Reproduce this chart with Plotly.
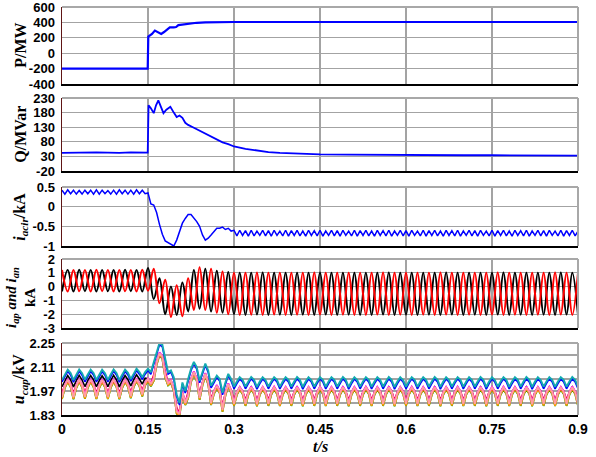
import plotly.graph_objects as go

# ---------------- data ----------------
t_fine = [round(0.005 * i, 3) for i in range(181)]   # 5 ms sampling grid
t_half = [round(0.01 * i, 2) for i in range(91)]     # 10 ms sampling grid (half period)

x_ticks = [0, 0.15, 0.3, 0.45, 0.6, 0.75, 0.9]
x_tick_text = ["0", "0.15", "0.3", "0.45", "0.6", "0.75", "0.9"]

# Panel 1: active power P (MW)
p_t = [0, 0.1495, 0.1505, 0.153, 0.157, 0.162, 0.167, 0.173, 0.178, 0.182, 0.188,
       0.195, 0.199, 0.203, 0.21, 0.217, 0.225, 0.235, 0.25, 0.27, 0.3, 0.4, 0.6, 0.9]
p_v = [-200, -200, 215, 225, 250, 293, 270, 250, 275, 300, 335,
       335, 340, 365, 372, 378, 388, 395, 400, 403, 405, 405, 405, 405]

# Panel 2: reactive power Q (MVar)
q_t = [0, 0.02, 0.04, 0.06, 0.08, 0.1, 0.12, 0.14, 0.1495, 0.151, 0.155, 0.16, 0.164,
       0.168, 0.172, 0.177, 0.182, 0.189, 0.195, 0.2, 0.205, 0.21, 0.215, 0.22, 0.23,
       0.24, 0.25, 0.26, 0.27, 0.28, 0.29, 0.3, 0.32, 0.34, 0.36, 0.38, 0.4, 0.45, 0.5,
       0.55, 0.6, 0.65, 0.7, 0.75, 0.8, 0.85, 0.9]
q_v = [42, 43, 42, 44, 43, 42, 44, 43, 43, 205, 195, 178, 205,
       222, 200, 178, 190, 200, 180, 165, 170, 162, 145, 138, 128,
       118, 108, 98, 88, 78, 72, 64, 56, 50, 45, 42, 40, 37, 36,
       35, 35, 35, 34, 34, 34, 33, 33]

# Panel 3: circulating current i_acir (kA), on t_fine
iacir = [
    0.42, 0.32, 0.43, 0.33, 0.42, 0.32, 0.41, 0.32, 0.42, 0.33,
    0.42, 0.32, 0.43, 0.32, 0.42, 0.33, 0.41, 0.32, 0.42, 0.32,
    0.43, 0.33, 0.42, 0.32, 0.42, 0.32, 0.43, 0.33, 0.42, 0.33,
    0.35, 0.07, 0.04, -0.15, -0.45, -0.70, -0.87, -0.92, -0.97, -1.00,
    -0.85, -0.65, -0.42, -0.30, -0.20, -0.20, -0.28, -0.38, -0.50, -0.72,
    -0.85, -0.80, -0.72, -0.62, -0.55, -0.55, -0.52, -0.58, -0.55, -0.62,
    -0.60,
    -0.74, -0.60, -0.73, -0.61, -0.75, -0.60, -0.74, -0.62, -0.73, -0.60,
    -0.74, -0.61, -0.75, -0.60, -0.73, -0.62, -0.74, -0.60, -0.75, -0.61,
    -0.73, -0.60, -0.74, -0.62, -0.75, -0.60, -0.73, -0.61, -0.74, -0.60,
    -0.75, -0.62, -0.73, -0.60, -0.74, -0.61, -0.75, -0.60, -0.73, -0.62,
    -0.74, -0.60, -0.75, -0.61, -0.73, -0.60, -0.74, -0.62, -0.75, -0.60,
    -0.73, -0.61, -0.74, -0.60, -0.75, -0.62, -0.73, -0.60, -0.74, -0.61,
    -0.75, -0.60, -0.73, -0.62, -0.74, -0.60, -0.75, -0.61, -0.73, -0.60,
    -0.74, -0.62, -0.75, -0.60, -0.73, -0.61, -0.74, -0.60, -0.75, -0.62,
    -0.73, -0.60, -0.74, -0.61, -0.75, -0.60, -0.73, -0.62, -0.74, -0.60,
    -0.75, -0.61, -0.73, -0.60, -0.74, -0.62, -0.75, -0.60, -0.73, -0.61,
    -0.74, -0.60, -0.75, -0.62, -0.73, -0.60, -0.74, -0.61, -0.75, -0.60,
    -0.73, -0.62, -0.74, -0.60, -0.75, -0.61, -0.73, -0.60, -0.74, -0.62,
]

# Panel 4: arm currents i_ap (black) and i_an (red) in kA, peaks/troughs on t_half
i_ap = [
    -0.35, 1.20, -0.35, 1.22, -0.33, 1.20, -0.35, 1.21, -0.34, 1.20,
    -0.35, 1.22, -0.33, 1.20, -0.35, 1.35, -0.90, 0.60, -2.00, 0.00,
    -2.05, 0.30, -1.80, 1.20, -1.60, 1.30, -1.80, 1.15, -1.90, 1.05,
    -2.00, 1.00, -2.05, 1.00, -2.03, 1.02, -2.05, 1.00, -2.04, 1.00,
    -2.05, 1.01, -2.04, 1.00, -2.05, 1.02, -2.03, 1.00, -2.05, 1.00,
    -2.04, 1.00, -2.05, 1.01, -2.05, 1.00, -2.03, 1.02, -2.05, 1.00,
    -2.04, 1.00, -2.05, 1.01, -2.04, 1.00, -2.05, 1.02, -2.03, 1.00,
    -2.05, 1.00, -2.04, 1.01, -2.05, 1.00, -2.03, 1.02, -2.05, 1.00,
    -2.04, 1.00, -2.05, 1.01, -2.04, 1.00, -2.05, 1.02, -2.03, 1.00,
    -2.05,
]
i_an = [
    1.20, -0.35, 1.21, -0.34, 1.20, -0.35, 1.22, -0.33, 1.20, -0.35,
    1.21, -0.34, 1.20, -0.35, 1.22, -0.30, 1.30, -1.20, 0.50, -2.20,
    0.10, -2.15, 0.60, -1.70, 1.40, -1.70, 1.30, -1.90, 1.10, -2.00,
    1.00, -2.05, 1.00, -2.04, 1.02, -2.05, 1.00, -2.03, 1.00, -2.05,
    1.01, -2.04, 1.00, -2.05, 1.02, -2.03, 1.00, -2.05, 1.00, -2.04,
    1.00, -2.05, 1.01, -2.05, 1.00, -2.03, 1.02, -2.05, 1.00, -2.04,
    1.00, -2.05, 1.01, -2.04, 1.00, -2.05, 1.02, -2.03, 1.00, -2.05,
    1.00, -2.04, 1.01, -2.05, 1.00, -2.03, 1.02, -2.05, 1.00, -2.04,
    1.00, -2.05, 1.01, -2.04, 1.00, -2.05, 1.02, -2.03, 1.00, -2.05,
    1.00,
]

# Panel 5: sub-module capacitor voltages u_cap (kV) on t_fine.
# Top (cyan) trace read point by point; the other traces read as their
# offset below it at the four points of each 20 ms cycle (trough, rise, peak, shoulder).
ucap_cyan = [
    2.035, 2.066, 2.095, 2.075, 2.034, 2.065, 2.096, 2.074, 2.036, 2.066,
    2.095, 2.075, 2.035, 2.065, 2.094, 2.074, 2.035, 2.066, 2.096, 2.075,
    2.034, 2.065, 2.095, 2.076, 2.040, 2.070, 2.100, 2.080, 2.050, 2.080,
    2.100, 2.080, 2.140, 2.200, 2.250, 2.240, 2.160, 2.080, 2.090, 2.050,
    1.950, 1.900, 2.020, 1.970, 2.040, 2.100, 2.140, 2.110, 2.030, 2.080,
    2.130, 2.090, 2.000, 2.030, 2.060, 2.040, 1.960, 2.020, 2.070, 2.040,
    1.995, 2.025, 2.050, 2.035, 1.995, 2.025, 2.052, 2.035, 1.993, 2.025,
    2.050, 2.034, 1.995, 2.026, 2.051, 2.035, 1.994, 2.025, 2.050, 2.035,
    1.995, 2.025, 2.052, 2.035, 1.993, 2.025, 2.050, 2.034, 1.995, 2.026,
    2.051, 2.035, 1.994, 2.025, 2.050, 2.035, 1.995, 2.025, 2.052, 2.035,
    1.993, 2.025, 2.050, 2.034, 1.995, 2.026, 2.051, 2.035, 1.994, 2.025,
    2.050, 2.035, 1.995, 2.025, 2.052, 2.035, 1.993, 2.025, 2.050, 2.034,
    1.995, 2.026, 2.051, 2.035, 1.994, 2.025, 2.050, 2.035, 1.995, 2.025,
    2.052, 2.035, 1.993, 2.025, 2.050, 2.034, 1.995, 2.026, 2.051, 2.035,
    1.994, 2.025, 2.050, 2.035, 1.995, 2.025, 2.052, 2.035, 1.993, 2.025,
    2.050, 2.034, 1.995, 2.026, 2.051, 2.035, 1.994, 2.025, 2.050, 2.035,
    1.995, 2.025, 2.052, 2.035, 1.993, 2.025, 2.050, 2.034, 1.995, 2.026,
    2.051, 2.035, 1.994, 2.025, 2.050, 2.035, 1.995, 2.025, 2.052, 2.035,
    1.995,
]
# offsets below the cyan trace: before the step (t < 0.15) and after it
off_blue = [-0.012, -0.012, -0.010, -0.012]
off_black_before = [-0.040, -0.035, -0.035, -0.040]
off_black_after = [-0.095, -0.062, -0.058, -0.068]
off_red = [-0.075, -0.060, -0.070, -0.065]
off_magenta = [-0.090, -0.060, -0.055, -0.065]
off_pink = [-0.100, -0.065, -0.060, -0.070]
off_orange = [-0.110, -0.075, -0.070, -0.080]
off_green = [-0.112, -0.078, -0.072, -0.082]
black_switch_t = 0.15


def below_cyan(offs, offs_after=None, t_switch=None):
    out = []
    for i, v in enumerate(ucap_cyan):
        o = offs
        if offs_after is not None and t_fine[i] >= t_switch:
            o = offs_after
        out.append(round(v + o[i % 4], 4))
    return out


# ---------------- figure ----------------
GRID = "#a3a3a3"
FRAME = "#a8a8a8"
LEFT = "#5e1515"
TICKFONT = dict(family="Liberation Sans, Arial", size=13, color="black", weight="bold")

# plot area: x 62..578 px, y 7..415 px (408 px tall)
domains = [
    [0.8113, 1.0],
    [0.598, 0.777],
    [0.4142, 0.5588],
    [0.2132, 0.3824],
    [0.0, 0.1765],
]
y_ranges = [[-400, 600], [-20, 230], [-1, 0.5], [-3, 2], [1.83, 2.25]]
y_tickvals = [
    [-400, -200, 0, 200, 400, 600],
    [-20, 30, 80, 130, 180, 230],
    [-1, -0.5, 0, 0.5],
    [-3, -2, -1, 0, 1, 2],
    [1.83, 1.97, 2.11, 2.25],
]
y_ticktext = [
    ["-400", "-200", "0", "200", "400", "600"],
    ["-20", "30", "80", "130", "180", "230"],
    ["-1", "-0.5", "0", "0.5"],
    ["-3", "-2", "-1", "0", "1", "2"],
    ["1.83", "1.97", "2.11", "2.25"],
]
ucap_minor_grid = [1.90, 2.04, 2.18]

fig = go.Figure()


def ax(k):
    return ("x" if k == 1 else f"x{k}"), ("y" if k == 1 else f"y{k}")


def add(k, x, y, color, width=1.8, shape="linear"):
    xa, ya = ax(k)
    fig.add_trace(go.Scatter(x=x, y=y, xaxis=xa, yaxis=ya, mode="lines",
                             line=dict(color=color, width=width, shape=shape),
                             showlegend=False, hoverinfo="skip"))


add(1, p_t, p_v, "#0000ff", 2.2)
add(2, q_t, q_v, "#0000ff", 1.8)
add(3, t_fine, iacir, "#0000ff", 1.5)
add(4, t_half, i_ap, "#000000", 2.0, "spline")
add(4, t_half, i_an, "#ff0000", 2.0, "spline")
add(5, t_fine, below_cyan(off_green), "#00a000", 1.8)
add(5, t_fine, below_cyan(off_orange), "#ff9900", 1.8)
add(5, t_fine, below_cyan(off_red), "#ff0000", 1.6)
add(5, t_fine, below_cyan(off_black_before, off_black_after, black_switch_t), "#000000", 1.6)
add(5, t_fine, below_cyan(off_magenta), "#ff00ff", 1.8)
add(5, t_fine, below_cyan(off_pink), "#ff9f9f", 2.0)
add(5, t_fine, below_cyan(off_blue), "#0000ff", 1.6)
add(5, t_fine, ucap_cyan, "#14a9b0", 1.9)

layout = dict(
    width=596, height=457,
    margin=dict(l=62, r=18, t=7, b=42, autoexpand=False),
    paper_bgcolor="white", plot_bgcolor="white",
    showlegend=False,
)
shapes = []
for k in range(1, 6):
    xa, ya = ax(k)
    xkey = "xaxis" if k == 1 else f"xaxis{k}"
    ykey = "yaxis" if k == 1 else f"yaxis{k}"
    layout[xkey] = dict(
        domain=[0, 1], anchor=ya, range=[0, 0.9], automargin=False,
        tickmode="array", tickvals=x_ticks, ticktext=x_tick_text,
        showticklabels=(k == 5), ticks="", ticklabeloverflow="allow",
        tickfont=dict(family="Liberation Sans, Arial", size=14, color="black", weight="bold"),
        showgrid=True, gridcolor=GRID, gridwidth=1.3, zeroline=False,
        showline=True, linecolor="black", linewidth=2,
    )
    ycfg = dict(
        domain=domains[k - 1], anchor=xa, range=y_ranges[k - 1], automargin=False,
        tickmode="array", tickvals=y_tickvals[k - 1], ticktext=y_ticktext[k - 1],
        tickfont=TICKFONT, ticks="outside", ticklen=3, tickcolor="rgba(0,0,0,0)",
        ticklabeloverflow="allow",
        showgrid=True, gridcolor=GRID, gridwidth=1.3, zeroline=False,
        showline=True, linecolor=LEFT, linewidth=1.5,
    )
    if k == 5:
        ycfg["minor"] = dict(tickmode="array", tickvals=ucap_minor_grid, showgrid=True,
                             gridcolor=GRID, gridwidth=1.3, ticks="")
    layout[ykey] = ycfg
    shapes.append(dict(type="line", xref=f"{xa} domain", yref=f"{ya} domain",
                       x0=0, x1=1, y0=1, y1=1, line=dict(color=FRAME, width=2), layer="above"))
    shapes.append(dict(type="line", xref=f"{xa} domain", yref=f"{ya} domain",
                       x0=1, x1=1, y0=0, y1=1, line=dict(color=FRAME, width=2), layer="above"))
layout["shapes"] = shapes

TITLEFONT = dict(family="Liberation Serif, Times New Roman", size=16, color="black", weight="bold")
titles = [
    ("P/MW", -0.081, 16, 0.0),
    ("Q/MVar", -0.081, 16, 0.0),
    ("<i>i<sub>acir</sub></i>/kA", -0.081, 16, 0.0),
    ("<i>i<sub>ap</sub> and i<sub>an</sub></i><br>kA", -0.080, 15, -0.009),
    ("<i>u<sub>cap</sub></i>/kV", -0.081, 16, 0.0),
]
ann = []
for k, (txt, xp, fs, dy) in enumerate(titles):
    d = domains[k]
    ann.append(dict(text=txt, xref="paper", yref="paper", x=xp, y=(d[0] + d[1]) / 2 + dy,
                    xanchor="center", yanchor="middle", textangle=-90, showarrow=False,
                    font=dict(TITLEFONT, size=fs)))
ann.append(dict(text="<i>t/s</i>", xref="paper", yref="paper", x=0.5, y=-0.078,
                xanchor="center", yanchor="middle", showarrow=False, font=TITLEFONT))
layout["annotations"] = ann

fig.update_layout(**layout)
fig.write_html("out.html", config={"displayModeBar": False, "staticPlot": True})

# remove the browser's default page margin so the 596x457 figure fills the window exactly
with open("out.html", "r", encoding="utf-8") as f:
    html = f.read()
html = html.replace("<head>", "<head><style>html,body{margin:0;padding:0;overflow:hidden;}</style>", 1)
with open("out.html", "w", encoding="utf-8") as f:
    f.write(html)
